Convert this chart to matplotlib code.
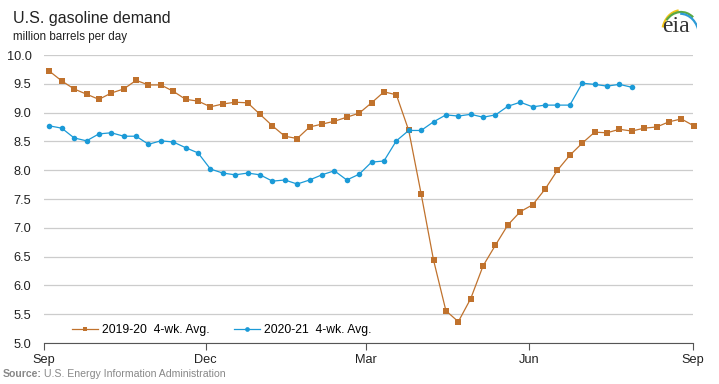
import matplotlib
matplotlib.use('Agg')
import matplotlib.pyplot as plt
import numpy as np
from matplotlib.patches import Arc

plt.rcParams['font.family'] = ['Liberation Sans', 'DejaVu Sans']

# weekly 4-week averages, million barrels per day
demand_2019_20 = [9.72, 9.55, 9.41, 9.32, 9.23, 9.34, 9.41, 9.56, 9.48, 9.48,
                  9.37, 9.23, 9.20, 9.10, 9.15, 9.18, 9.17, 8.97, 8.77, 8.59,
                  8.55, 8.75, 8.80, 8.85, 8.92, 8.99, 9.17, 9.36, 9.31, 8.69,
                  7.59, 6.44, 5.56, 5.37, 5.77, 6.34, 6.70, 7.05, 7.28, 7.40,
                  7.67, 8.00, 8.26, 8.47, 8.66, 8.65, 8.71, 8.68, 8.73, 8.75,
                  8.84, 8.89, 8.77]
demand_2020_21 = [8.77, 8.73, 8.56, 8.51, 8.63, 8.65, 8.59, 8.59, 8.45, 8.51,
                  8.49, 8.39, 8.30, 8.02, 7.95, 7.92, 7.95, 7.92, 7.81, 7.83,
                  7.76, 7.83, 7.92, 7.99, 7.83, 7.93, 8.14, 8.16, 8.51, 8.69,
                  8.69, 8.84, 8.96, 8.94, 8.97, 8.92, 8.96, 9.11, 9.18, 9.10,
                  9.13, 9.13, 9.13, 9.51, 9.49, 9.46, 9.49, 9.44]

month_labels = ['Sep', 'Dec', 'Mar', 'Jun', 'Sep']
month_days = [0, 91, 181, 273, 365]

days_a = 3 + 6.97 * np.arange(len(demand_2019_20))
days_b = 3 + 6.97 * np.arange(len(demand_2020_21))

orange = '#c0722d'
blue = '#1b9ad7'

fig = plt.figure(figsize=(7.19, 3.84), dpi=100)
ax = fig.add_axes([44/719, 1 - 343/384, (693-44)/719, (343-55)/384])

ax.plot(days_a, demand_2019_20, color=orange, lw=0.9, marker='s', ms=3.7, mew=0,
        label='2019-20  4-wk. Avg.', clip_on=False, zorder=3)
ax.plot(days_b, demand_2020_21, color=blue, lw=0.9, marker='o', ms=4.0, mew=0,
        label='2020-21  4-wk. Avg.', clip_on=False, zorder=4)

ax.set_xlim(0, 365)
ax.set_ylim(5.0, 10.0)
ax.set_yticks(np.arange(5.0, 10.01, 0.5))
ax.set_yticklabels(['%.1f' % v for v in np.arange(5.0, 10.01, 0.5)])
ax.set_xticks(month_days)
ax.set_xticklabels(month_labels)
ax.grid(axis='y', color='#cccccc', lw=0.9)
ax.set_axisbelow(True)
for s in ['top', 'right', 'left']:
    ax.spines[s].set_visible(False)
ax.spines['bottom'].set_color('#555555')
ax.tick_params(axis='y', length=0, labelsize=9.2, pad=9, colors='#222222')
ax.tick_params(axis='x', length=5, color='#555555', labelsize=9.2, pad=3, colors='#222222')

leg = ax.legend(loc='center left', bbox_to_anchor=(0.043, 0.046), ncol=2, frameon=False,
                fontsize=8.7, handlelength=2.2, columnspacing=2.0, handletextpad=0.3,
                borderaxespad=0, borderpad=0, markerscale=0.85)

fig.text(13/719, 1 - 18/384, 'U.S. gasoline demand', fontsize=11.5, va='center', color='#222222')
fig.text(13/719, 1 - 37/384, 'million barrels per day', fontsize=8.4, va='center', color='#222222')
fig.text(3/719, 1 - 374/384, 'Source:', fontsize=7.6, fontweight='bold', va='center', color='#888888')
fig.text(44/719, 1 - 374/384, 'U.S. Energy Information Administration', fontsize=7.6,
         va='center', color='#888888')

# eia logo
fig.text(676/719, 1 - 27/384, 'eia', fontsize=17, family='Liberation Serif',
         ha='center', va='center', color='#333333')
lax = fig.add_axes([655/719, 1 - 40/384, 42/719, 35/384])
lax.set_xlim(0, 1)
lax.set_ylim(0, 1)
lax.axis('off')
lax.add_patch(Arc((0.62, 0.2), 0.9, 1.3, theta1=95, theta2=160, color='#f2c318', lw=1.6))
lax.add_patch(Arc((0.62, 0.15), 0.9, 1.3, theta1=60, theta2=130, color='#5aa845', lw=1.6))
lax.add_patch(Arc((0.6, 0.1), 0.9, 1.3, theta1=10, theta2=90, color='#2e9bd6', lw=1.6))

fig.savefig('out.png', dpi=100)
